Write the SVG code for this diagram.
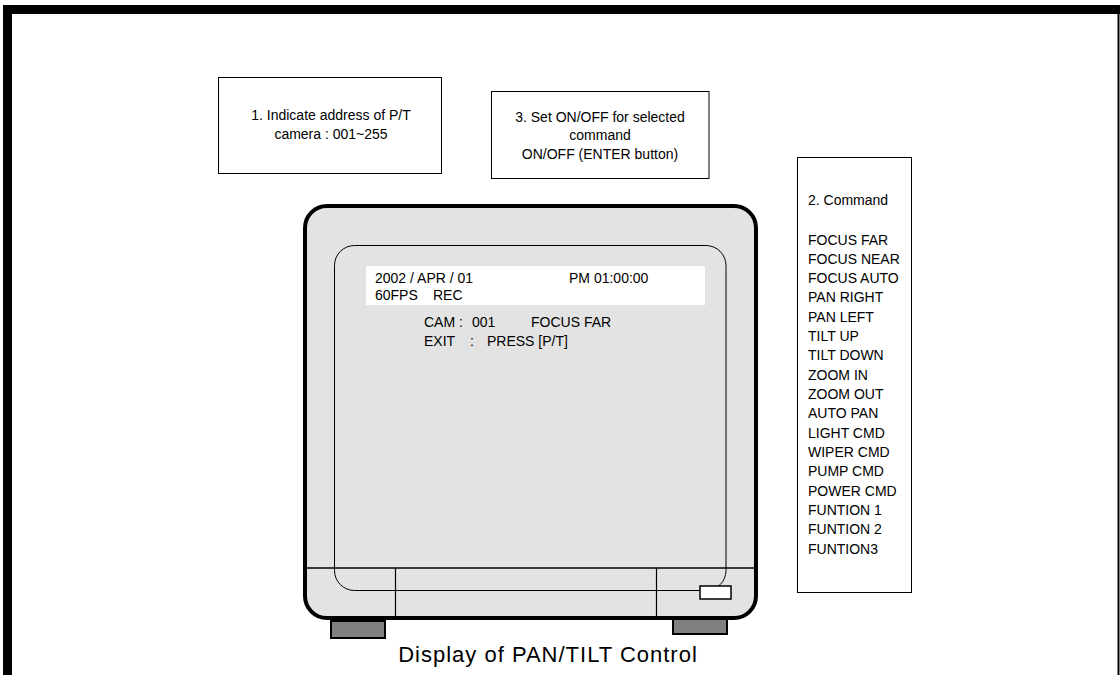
<svg xmlns="http://www.w3.org/2000/svg" width="1120" height="675" viewBox="0 0 1120 675">
<style>
  text { font-family: "Liberation Sans", Arial, sans-serif; fill: #000; }
  .lbl { font-size: 14px; }
  .osd { font-size: 14px; }
  .cap { font-size: 22px; letter-spacing: 1px; }
  .box { fill: #fff; stroke: #000; stroke-width: 1; }
  .body { fill: #e3e3e3; }
  .foot { fill: #808080; stroke: #000; stroke-width: 2; }
</style>
<rect x="0" y="0" width="1120" height="675" fill="#fff"/>
<g id="frame">
  <rect x="3" y="5" width="9" height="670" fill="#000"/>
  <rect x="3" y="5" width="1117" height="9" fill="#000"/>
  <rect x="1117.5" y="5" width="2" height="670" fill="#000"/>
</g>
<g id="box-address">
  <rect class="box" x="218.5" y="77.5" width="223" height="96"/>
  <text class="lbl" x="331" y="120" text-anchor="middle">1. Indicate address of P/T</text>
  <text class="lbl" x="331" y="139" text-anchor="middle">camera : 001~255</text>
</g>
<g id="box-onoff">
  <rect class="box" x="491.5" y="91.5" width="217.5" height="87"/>
  <text class="lbl" x="600" y="122" text-anchor="middle">3. Set ON/OFF for selected</text>
  <text class="lbl" x="600" y="140" text-anchor="middle">command</text>
  <text class="lbl" x="600" y="159" text-anchor="middle">ON/OFF (ENTER button)</text>
</g>
<g id="box-command">
  <rect class="box" x="797.5" y="157.5" width="114" height="435"/>
  <text class="lbl" x="808" y="205">2. Command</text>
  <text class="lbl" x="808" y="245">FOCUS FAR</text>
  <text class="lbl" x="808" y="264">FOCUS NEAR</text>
  <text class="lbl" x="808" y="283">FOCUS AUTO</text>
  <text class="lbl" x="808" y="302">PAN RIGHT</text>
  <text class="lbl" x="808" y="322">PAN LEFT</text>
  <text class="lbl" x="808" y="341">TILT UP</text>
  <text class="lbl" x="808" y="360">TILT DOWN</text>
  <text class="lbl" x="808" y="380">ZOOM IN</text>
  <text class="lbl" x="808" y="399">ZOOM OUT</text>
  <text class="lbl" x="808" y="418">AUTO PAN</text>
  <text class="lbl" x="808" y="438">LIGHT CMD</text>
  <text class="lbl" x="808" y="457">WIPER CMD</text>
  <text class="lbl" x="808" y="476">PUMP CMD</text>
  <text class="lbl" x="808" y="496">POWER CMD</text>
  <text class="lbl" x="808" y="515">FUNTION 1</text>
  <text class="lbl" x="808" y="534">FUNTION 2</text>
  <text class="lbl" x="808" y="554">FUNTION3</text>
</g>
<g id="monitor">
  <rect class="foot" x="331" y="621" width="54" height="17"/>
  <rect class="foot" x="673" y="618" width="54" height="16"/>
  <rect class="body" x="305" y="206" width="451" height="412" rx="22" ry="22" stroke="#000" stroke-width="4"/>
  <rect class="body" x="334.5" y="245.5" width="391.5" height="345" rx="20" ry="20" stroke="#000" stroke-width="1"/>
  <line x1="307" y1="568" x2="754" y2="568" stroke="#000" stroke-width="1.5"/>
  <line x1="395.5" y1="568" x2="395.5" y2="616" stroke="#000" stroke-width="1.2"/>
  <line x1="656.5" y1="568" x2="656.5" y2="616" stroke="#000" stroke-width="1.2"/>
  <rect x="700" y="586" width="31" height="13" fill="#fff" stroke="#000" stroke-width="1.5"/>
  <rect x="366" y="266" width="339" height="39" fill="#fff"/>
  <text class="osd" x="375" y="283">2002 / APR / 01</text>
  <text class="osd" x="569" y="283">PM 01:00:00</text>
  <text class="osd" x="375" y="300">60FPS<tspan x="433">REC</tspan></text>
  <text class="osd" x="424" y="327">CAM :<tspan x="472">001</tspan><tspan x="531">FOCUS FAR</tspan></text>
  <text class="osd" x="424" y="346">EXIT<tspan x="470">:</tspan><tspan x="487">PRESS [P/T]</tspan></text>
</g>
<text class="cap" x="548" y="662" text-anchor="middle">Display of PAN/TILT Control</text>
</svg>
